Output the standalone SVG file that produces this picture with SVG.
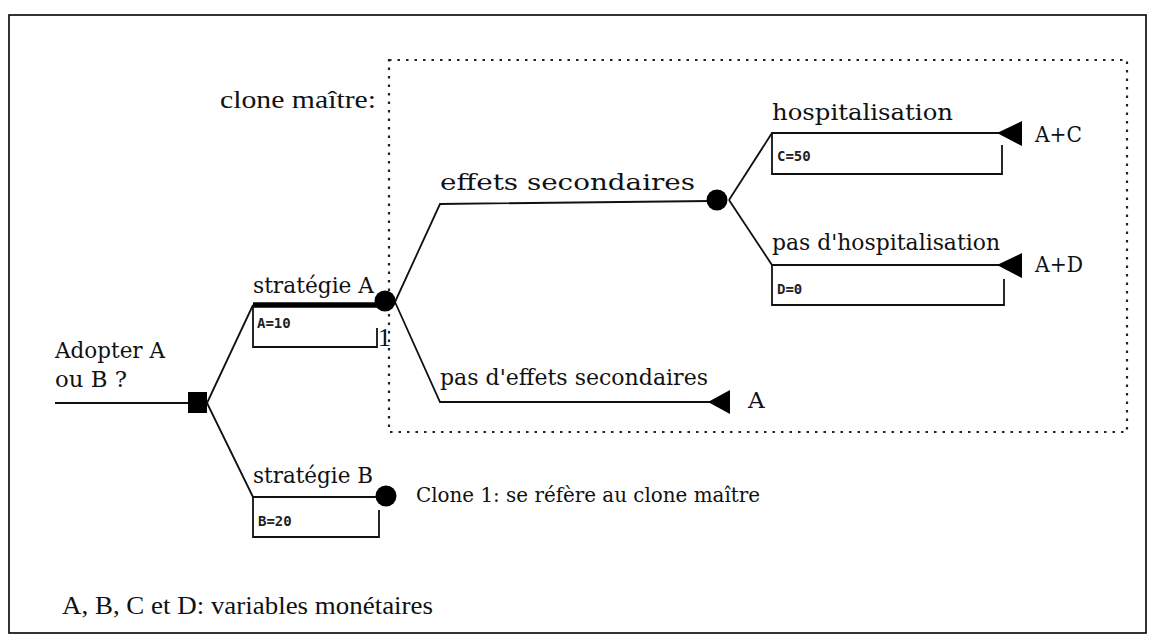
<svg xmlns="http://www.w3.org/2000/svg" width="1149" height="638" viewBox="0 0 1149 638">
  <style>
    .frame { fill: none; stroke: #111; stroke-width: 1.7; }
    .clone-box { fill: none; stroke: #222; stroke-width: 2.2; stroke-dasharray: 2.5 6; }
    .edge { fill: none; stroke: #111; stroke-width: 1.8; }
    .edge-bold { fill: none; stroke: #000; stroke-width: 5.5; }
    .val-box { fill: none; stroke: #111; stroke-width: 1.8; }
    .knot { fill: #000; }
    .lbl { font-family: "DejaVu Serif", "Liberation Serif", serif; font-size: 23px; fill: #111; }
    .note { font-family: "DejaVu Serif", "Liberation Serif", serif; font-size: 20px; fill: #111; }
    .val { font-family: "DejaVu Sans Mono", "Liberation Mono", monospace; font-size: 14px; font-weight: bold; fill: #222; }
    .foot { font-family: "Liberation Serif", "Times New Roman", serif; font-size: 26px; fill: #111; }
  </style>

  <rect width="1149" height="638" fill="#fff"/>

  <!-- outer frame -->
  <rect class="frame" x="9" y="15" width="1137" height="618"/>

  <!-- master clone region -->
  <g id="clone-master">
    <rect class="clone-box" x="389" y="60" width="738" height="372"/>
    <text class="foot" x="220" y="108" textLength="156" lengthAdjust="spacingAndGlyphs">clone maître:</text>
  </g>

  <!-- branches -->
  <g id="connectors">
    <line class="edge" x1="55" y1="403" x2="190" y2="403"/>
    <polyline class="edge" points="207,403 253,305"/>
    <polyline class="edge" points="207,403 253,497 380,497"/>
    <line class="edge-bold" x1="253" y1="305" x2="380" y2="305"/>
    <polyline class="edge" points="395,302 440,204 710,201"/>
    <polyline class="edge" points="395,302 440,402 712,402"/>
    <polyline class="edge" points="729,200 772,133 999,133"/>
    <polyline class="edge" points="729,200 772,265 999,265"/>
  </g>

  <!-- decision node -->
  <g id="decision">
    <rect class="knot" x="188" y="392" width="19" height="21"/>
    <text class="lbl" x="55" y="358" textLength="110" lengthAdjust="spacingAndGlyphs">Adopter A</text>
    <text class="lbl" x="55" y="387" textLength="72" lengthAdjust="spacingAndGlyphs">ou B ?</text>
  </g>

  <!-- strategy A -->
  <g id="strategie-a">
    <text class="lbl" x="253" y="293" textLength="121" lengthAdjust="spacingAndGlyphs">stratégie A</text>
    <polyline class="val-box" points="253,305 253,347 377,347 377,328"/>
    <text class="val" x="257" y="328">A=10</text>
    <circle class="knot" cx="385" cy="301" r="10.5"/>
    <text class="foot" x="378" y="346" font-size="22">1</text>
  </g>

  <!-- strategy B -->
  <g id="strategie-b">
    <text class="lbl" x="253" y="483" textLength="120" lengthAdjust="spacingAndGlyphs">stratégie B</text>
    <polyline class="val-box" points="253,497 253,537 379,537 379,510"/>
    <text class="val" x="258" y="526">B=20</text>
    <circle class="knot" cx="386" cy="496" r="10.5"/>
    <text class="note" x="416" y="502" textLength="344" lengthAdjust="spacingAndGlyphs">Clone 1: se réfère au clone maître</text>
  </g>

  <!-- side effects -->
  <g id="effets">
    <text class="lbl" x="440" y="190" textLength="255" lengthAdjust="spacingAndGlyphs">effets secondaires</text>
    <circle class="knot" cx="717" cy="200" r="10.5"/>
  </g>

  <g id="hospitalisation">
    <text class="lbl" x="772" y="120" textLength="181" lengthAdjust="spacingAndGlyphs">hospitalisation</text>
    <polyline class="val-box" points="772,133 772,174 1002,174 1002,145"/>
    <text class="val" x="777" y="161">C=50</text>
    <polygon class="knot" points="997,133 1022,121 1022,146"/>
    <text class="lbl" x="1035" y="142" textLength="47" lengthAdjust="spacingAndGlyphs">A+C</text>
  </g>

  <g id="pas-hospitalisation">
    <text class="lbl" x="772" y="250" textLength="228" lengthAdjust="spacingAndGlyphs">pas d'hospitalisation</text>
    <polyline class="val-box" points="772,265 772,305 1004,305 1004,279"/>
    <text class="val" x="777" y="294">D=0</text>
    <polygon class="knot" points="997,265 1022,253 1022,278"/>
    <text class="lbl" x="1035" y="272" textLength="48" lengthAdjust="spacingAndGlyphs">A+D</text>
  </g>

  <g id="pas-effets">
    <text class="lbl" x="440" y="385" textLength="268" lengthAdjust="spacingAndGlyphs">pas d'effets secondaires</text>
    <polygon class="knot" points="708,402 730,390 730,414"/>
    <text class="lbl" x="748" y="408">A</text>
  </g>

  <!-- legend -->
  <text class="foot" x="62" y="614" textLength="371" lengthAdjust="spacingAndGlyphs">A, B, C et D: variables monétaires</text>
</svg>
